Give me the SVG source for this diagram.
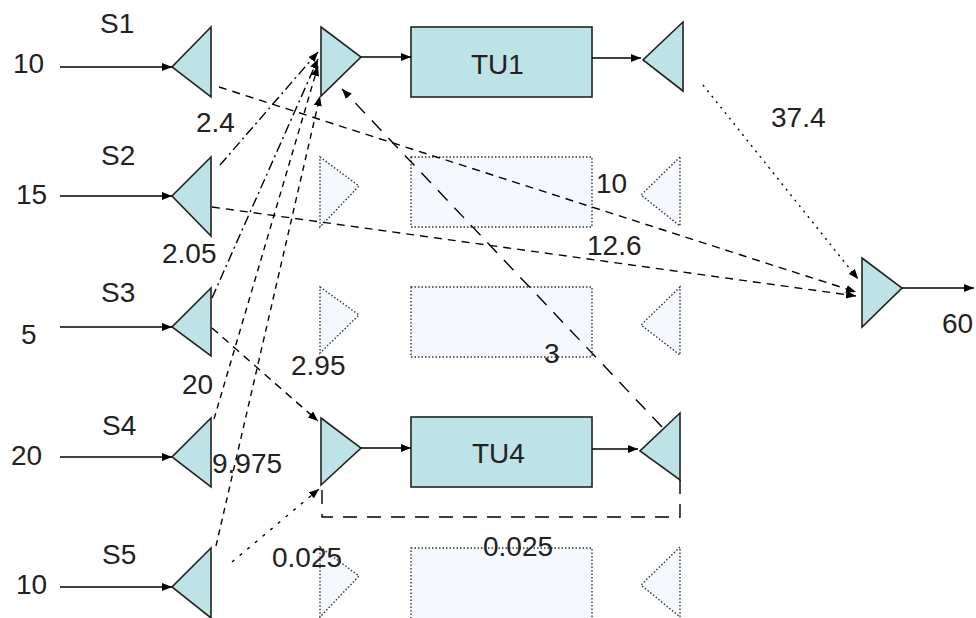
<svg xmlns="http://www.w3.org/2000/svg" width="976" height="618" viewBox="0 0 976 618">
<defs>
<marker id="ah" markerWidth="10" markerHeight="8" refX="10" refY="4" orient="auto" markerUnits="userSpaceOnUse">
<path d="M0,0 L10,4 L0,8 z" fill="#000"/>
</marker>
<style>
.n{fill:#bde3e6;stroke:#222;stroke-width:1.6}
.g{fill:#f5f9fd;stroke:#333;stroke-width:1.4;stroke-dasharray:1.5,2}
.t{font-family:"Liberation Sans",Arial,sans-serif;font-size:28px;fill:#222}
.c{fill:none;stroke:#000;stroke-width:1.4}
.solid{marker-end:url(#ah)}
.d1{stroke-dasharray:8,6}
.d2{stroke-dasharray:6,5}
.dd{stroke-dasharray:10,4,2,4}
.dl{stroke-dasharray:14,10}
.dt{stroke-dasharray:2,5}
.ds{stroke-dasharray:3,7}
</style>
</defs>
<rect width="976" height="618" fill="#fff"/>

<g id="S1"><polygon class="n" points="211,27 172,67 211,97"/><text class="t" x="100" y="33">S1</text><text class="t" x="13" y="73">10</text></g>
<g id="S2"><polygon class="n" points="211,157 172,196 211,236"/><text class="t" x="101" y="165">S2</text><text class="t" x="16" y="204">15</text></g>
<g id="S3"><polygon class="n" points="211,288 172,327 211,356"/><text class="t" x="101" y="302">S3</text><text class="t" x="21" y="344">5</text></g>
<g id="S4"><polygon class="n" points="211,418 172,457 211,487"/><text class="t" x="102" y="435">S4</text><text class="t" x="11" y="465">20</text></g>
<g id="S5"><polygon class="n" points="211,548 172,587 211,618"/><text class="t" x="102" y="564">S5</text><text class="t" x="16" y="594">10</text></g>

<g id="M1"><polygon class="n" points="321,27 361,57 321,96"/></g>
<g id="TU1"><rect class="n" x="411" y="27" width="181" height="70"/><text class="t" x="471" y="74">TU1</text></g>
<g id="SP1"><polygon class="n" points="683,22 643,60 683,91"/></g>

<g id="M2"><polygon class="g" points="320,157 359,186 320,227"/></g>
<g id="U2"><rect class="g" x="411" y="157" width="181" height="70"/></g>
<g id="SP2"><polygon class="g" points="680,157 641,195 680,226"/></g>

<g id="M3"><polygon class="g" points="320,287 359,315 320,353"/></g>
<g id="U3"><rect class="g" x="411" y="287" width="181" height="70"/></g>
<g id="SP3"><polygon class="g" points="680,287 641,325 680,355"/></g>

<g id="M4"><polygon class="n" points="321,418 361,448 321,485"/></g>
<g id="TU4"><rect class="n" x="411" y="417" width="181" height="70"/><text class="t" x="472" y="463">TU4</text></g>
<g id="SP4"><polygon class="n" points="680,413 640,451 680,480"/></g>

<g id="M5"><polygon class="g" points="320,547 359,576 320,617"/></g>
<g id="U5"><rect class="g" x="411" y="548" width="181" height="80"/></g>
<g id="SP5"><polygon class="g" points="680,547 641,585 680,617"/></g>

<g id="MF"><polygon class="n" points="862,258 902,288 862,327"/><text class="t" x="942" y="333">60</text></g>

<g id="connectors">
<line class="c solid" x1="60" y1="67" x2="172" y2="67"/>
<line class="c solid" x1="60" y1="196" x2="172" y2="196"/>
<line class="c solid" x1="60" y1="327" x2="172" y2="327"/>
<line class="c solid" x1="60" y1="457" x2="172" y2="457"/>
<line class="c solid" x1="60" y1="587" x2="172" y2="587"/>
<line class="c solid" x1="361" y1="57" x2="411" y2="57"/>
<line class="c solid" x1="592" y1="58" x2="641" y2="58"/>
<line class="c solid" x1="361" y1="448" x2="411" y2="448"/>
<line class="c solid" x1="592" y1="449" x2="638" y2="449"/>
<line class="c solid" x1="902" y1="288" x2="974" y2="288"/>
<line class="c solid d1" x1="219" y1="87" x2="856" y2="292"/>
<line class="c solid d1" x1="212" y1="207" x2="856" y2="296"/>
<line class="c solid dd" x1="220" y1="165" x2="318" y2="52"/>
<line class="c solid dd" x1="212" y1="298" x2="318" y2="59"/>
<line class="c solid d2" x1="214" y1="419" x2="318" y2="66"/>
<line class="c solid d2" x1="216" y1="546" x2="320" y2="96"/>
<line class="c solid d1" x1="212" y1="328" x2="318" y2="421"/>
<line class="c solid ds" x1="232" y1="562" x2="319" y2="489"/>
<line class="c solid dl" x1="662" y1="427" x2="342" y2="89"/>
<line class="c solid dt" x1="703" y1="85" x2="858" y2="279"/>
<path class="c dl" d="M680,480 L680,517 L322,517 L322,489"/>
</g>

<g id="labels">
<text class="t" x="196" y="132">2.4</text>
<text class="t" x="596" y="193">10</text>
<text class="t" x="162" y="263">2.05</text>
<text class="t" x="587" y="255">12.6</text>
<text class="t" x="182" y="394">20</text>
<text class="t" x="291" y="375">2.95</text>
<text class="t" x="544" y="363">3</text>
<text class="t" x="212" y="473">9.975</text>
<text class="t" x="272" y="567">0.025</text>
<text class="t" x="483" y="556">0.025</text>
<text class="t" x="771" y="127">37.4</text>
</g>
</svg>
